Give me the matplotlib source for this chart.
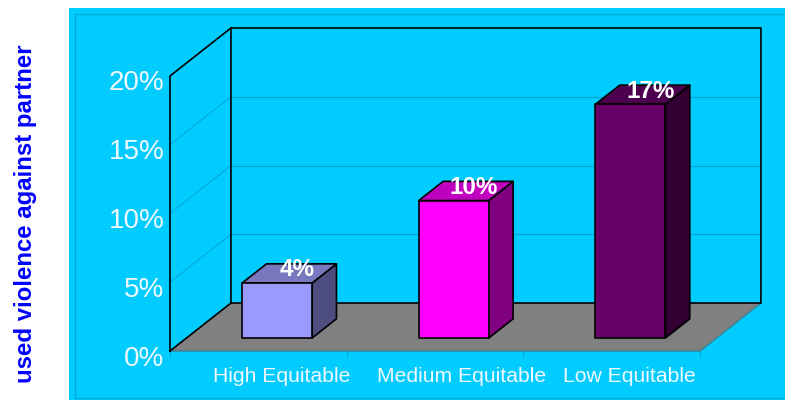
import matplotlib
matplotlib.use('Agg')
import matplotlib.pyplot as plt
from matplotlib.patches import Polygon, Rectangle

categorias = ['High Equitable', 'Medium Equitable', 'Low Equitable']
valores = [4, 10, 17]
ticks_y = [0, 5, 10, 15, 20]
ticks_y_labels = ['0%', '5%', '10%', '15%', '20%']
rotulos = ['4%', '10%', '17%']

cores_frente = ['#9999FF', '#FF00FF', '#660066']
cores_lado = ['#4D4D80', '#800080', '#330033']
cores_topo = ['#7878BF', '#BF00BF', '#4D004D']

AZUL = '#00CCFF'
GRADE = '#00A3CC'

plt.rcParams['font.family'] = ['Liberation Sans', 'DejaVu Sans']

fig = plt.figure(figsize=(7.85, 4), dpi=100, facecolor='white')

# fundo azul e moldura fina (atras dos eixos)
fig.add_artist(Rectangle((69 / 785, 0), 716 / 785, 392 / 400, transform=fig.transFigure,
                         facecolor=AZUL, edgecolor='none', zorder=-2))
fig.add_artist(Rectangle((75 / 785, 2 / 400), 720 / 785, 384 / 400, transform=fig.transFigure,
                         facecolor='none', edgecolor='#00AAD8', linewidth=1, zorder=-1))

# o plano da frente do grafico 3D
ax = fig.add_axes([170 / 785, 49 / 400, 530 / 785, 275 / 400])
ax.set_xlim(0, 3)
ax.set_ylim(0, 20)
ax.patch.set_visible(False)
for s in ax.spines.values():
    s.set_visible(False)

# deslocamento da profundidade em unidades dos eixos
dx = 0.345
dy = 3.49


def proj(x, y, d):
    return (x + dx * d, y + dy * d)


def poli(pontos, **kw):
    ax.add_patch(Polygon(pontos, closed=True, clip_on=False, **kw))


# piso
poli([proj(0, 0, 0), proj(3, 0, 0), proj(3, 0, 1), proj(0, 0, 1)],
     facecolor='#808080', edgecolor='none', zorder=1)
ax.plot([0, 3, 3 + dx], [0, 0, dy], color='#3F7F90', lw=1, clip_on=False, zorder=1.5)

# grades
for v in ticks_y[1:-1]:
    x1, y1 = proj(0, v, 1)
    x2, y2 = proj(3, v, 1)
    ax.plot([0, x1], [v, y1], color='#0098C0', lw=0.5, clip_on=False, zorder=2)
    ax.plot([x1, x2], [y1, y2], color=GRADE, lw=0.8, clip_on=False, zorder=2)

# contorno das paredes
xb, yb = proj(0, 0, 1)
xt, yt = proj(0, 20, 1)
xr, yr = proj(3, 20, 1)
xf, yf = proj(3, 0, 1)
ax.plot([0, 0, xt, xr, xf, xb, xt], [0, 20, yt, yr, yf, yb, yt], color='black', lw=1.2,
        clip_on=False, zorder=3)
ax.plot([0, xb], [0, yb], color='black', lw=1.2, clip_on=False, zorder=3)

# barras
larg = 0.396
d0 = 0.27
d1 = 0.67
for i, v in enumerate(valores):
    e = i + 0.513 - larg / 2
    r = e + larg
    borda = dict(edgecolor='black', linewidth=1.2, joinstyle='round', zorder=4)
    poli([proj(r, 0, d0), proj(r, 0, d1), proj(r, v, d1), proj(r, v, d0)],
         facecolor=cores_lado[i], **borda)
    poli([proj(e, v, d0), proj(r, v, d0), proj(r, v, d1), proj(e, v, d1)],
         facecolor=cores_topo[i], **borda)
    poli([proj(e, 0, d0), proj(r, 0, d0), proj(r, v, d0), proj(e, v, d0)],
         facecolor=cores_frente[i], **borda)
    ax.annotate(rotulos[i], xy=proj(i + 0.513, v, d0), xytext=(14.5, 9.5),
                textcoords='offset points', ha='center', va='center', color='white',
                fontsize=17.5, fontweight='bold', annotation_clip=False, zorder=5)

# eixos
ax.set_xticks([0, 1, 2, 3])
ax.set_xticklabels([])
ax.set_yticks([])
ax.tick_params(axis='x', length=4, width=0.8, color=GRADE)

desloc = [0.13, 0.15, 0.10]
for i, c in enumerate(categorias):
    ax.annotate(c, xy=(i + 0.5 + desloc[i], 0), xytext=(0, -18), textcoords='offset points',
                ha='center', va='center', color='#F0F8FF', fontsize=15.2, annotation_clip=False)

for v, t in zip(ticks_y, ticks_y_labels):
    ax.annotate(t, xy=(0, v), xytext=(-4, -5.4), textcoords='offset points',
                ha='right', va='center', color='#F0F8FF', fontsize=20, annotation_clip=False)

fig.text(26 / 785, 1 - 214 / 400, 'used violence against partner', rotation=90, ha='center',
         va='center', color='#0000FF', fontsize=17.3, fontweight='bold')

fig.savefig('out.png', dpi=100)
